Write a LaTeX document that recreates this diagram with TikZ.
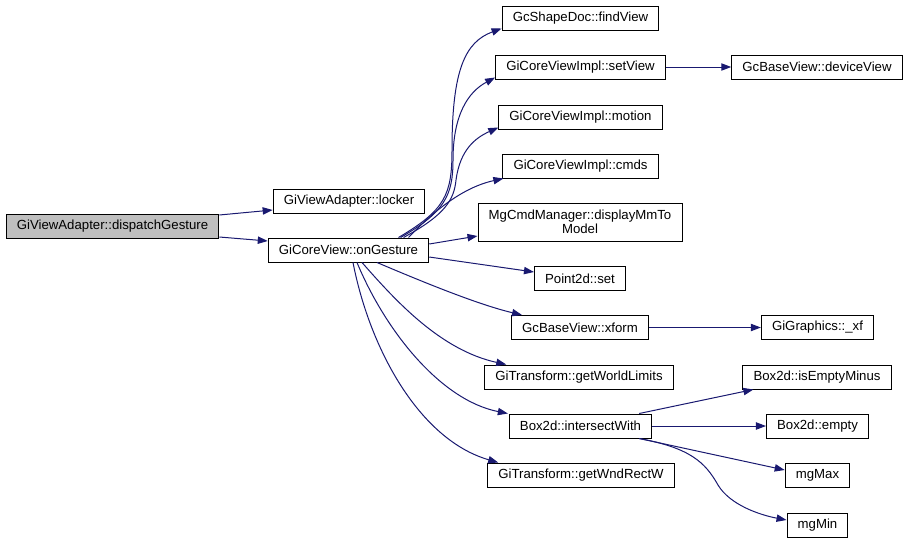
\documentclass[tikz,border=0pt]{standalone}
\usepackage{fontspec}
\setmainfont{Liberation Sans}
\usetikzlibrary{arrows.meta}
\definecolor{callblue}{HTML}{191970}
\definecolor{rootgray}{HTML}{BFBFBF}

\begin{document}
\begin{tikzpicture}[x=0.75pt, y=-0.75pt,
    fn/.style={draw, line width=0.75pt, fill=white, inner xsep=8pt,
               minimum height=18pt, font=\fontsize{9.9}{10.5}\selectfont},
    call/.style={draw=callblue, line width=0.75pt,
                 -{Triangle[length=7.5pt, width=5.5pt, fill=callblue]}}]
  \useasboundingbox (0,0) rectangle (909,543);

  % Caller and first level
  \node[fn, fill=rootgray] (dispatch) at (112.5,226) {GiViewAdapter::dispatchGesture};
  \node[fn] (locker)    at (349,201)   {GiViewAdapter::locker};
  \node[fn] (onGesture) at (348.5,250) {GiCoreView::onGesture};

  % Called by onGesture
  \node[fn] (findView)    at (580.5,18)  {GcShapeDoc::findView};
  \node[fn] (setView)     at (580.5,67)  {GiCoreViewImpl::setView};
  \node[fn] (motion)      at (580.5,117) {GiCoreViewImpl::motion};
  \node[fn] (cmds)        at (580.5,166) {GiCoreViewImpl::cmds};
  \node[fn, align=center, minimum height=28.5pt] (displayMm) at (580,222)
        {MgCmdManager::displayMmTo\\Model};
  \node[fn] (pointSet)    at (580,278.5) {Point2d::set};
  \node[fn] (xform)       at (580,327.5) {GcBaseView::xform};
  \node[fn] (worldLimits) at (579,377)   {GiTransform::getWorldLimits};
  \node[fn] (intersect)   at (580.5,426) {Box2d::intersectWith};
  \node[fn] (wndRect)     at (581,475)   {GiTransform::getWndRectW};

  % Right column
  \node[fn] (deviceView)   at (817,67)    {GcBaseView::deviceView};
  \node[fn] (graphicsXf)   at (817.5,327.5) {GiGraphics::\_xf};
  \node[fn] (isEmptyMinus) at (817,377)   {Box2d::isEmptyMinus};
  \node[fn] (boxEmpty)     at (817.5,426) {Box2d::empty};
  \node[fn] (mgMax)        at (817.5,475) {mgMax};
  \node[fn] (mgMin)        at (817.5,525) {mgMin};

  % Calls from dispatchGesture
  \draw[call] ([shift={(0,-11)}]dispatch.east) -- ([shift={(0,9)}]locker.west);
  \draw[call] ([shift={(0,11)}]dispatch.east) -- ([shift={(0,-9)}]onGesture.west);

  % Calls from onGesture, upwards
  \draw[call] ([shift={(50,0)}]onGesture.north) .. controls (445,210) and (452,195) .. (452,150)
    .. controls (452,70) and (465,42) .. ([shift={(0,-2)}]findView.south west);
  \draw[call] ([shift={(52,0)}]onGesture.north) .. controls (445,212) and (453,195) .. (453,160)
    .. controls (453,115) and (468,92) .. ([shift={(0,-2)}]setView.south west);
  \draw[call] ([shift={(55,0)}]onGesture.north) .. controls (445,215) and (454,200) .. (456,180)
    .. controls (460,150) and (475,138) .. ([shift={(0,-2)}]motion.south west);
  \draw[call] ([shift={(60,0)}]onGesture.north) .. controls (430,215) and (460,188)
    .. ([shift={(1,0)}]cmds.south west);
  \draw[call] ([shift={(0,-6)}]onGesture.east) -- ([shift={(0,14)}]displayMm.west);
  \draw[call] ([shift={(0,7)}]onGesture.east) -- ([shift={(0,-6.5)}]pointSet.west);

  % Calls from onGesture, downwards
  \draw[call] ([shift={(28.5,0)}]onGesture.south) .. controls (430,285) and (480,305)
    .. ([shift={(11,0)}]xform.north west);
  \draw[call] ([shift={(13.5,0)}]onGesture.south) .. controls (395,300) and (440,350)
    .. ([shift={(22,0)}]worldLimits.north west);
  \draw[call] ([shift={(8.5,0)}]onGesture.south) .. controls (385,330) and (440,400)
    .. ([shift={(-1,0)}]intersect.north west);
  \draw[call] ([shift={(4.5,0)}]onGesture.south) .. controls (370,350) and (420,440)
    .. ([shift={(11,0)}]wndRect.north west);

  % Further calls
  \draw[call] (setView.east) -- (deviceView.west);
  \draw[call] (xform.east) -- (graphicsXf.west);
  \draw[call] ([shift={(-13,0)}]intersect.north east) -- ([shift={(11,0)}]isEmptyMinus.south west);
  \draw[call] (intersect.east) -- (boxEmpty.west);
  \draw[call] ([shift={(-13,0)}]intersect.south east) -- ([shift={(0,-5)}]mgMax.west);
  \draw[call] ([shift={(-13,0)}]intersect.south east) .. controls (690,448) and (705,462) .. (718,485)
    .. controls (730,505) and (760,515) .. ([shift={(0,-5)}]mgMin.west);
\end{tikzpicture}
\end{document}
